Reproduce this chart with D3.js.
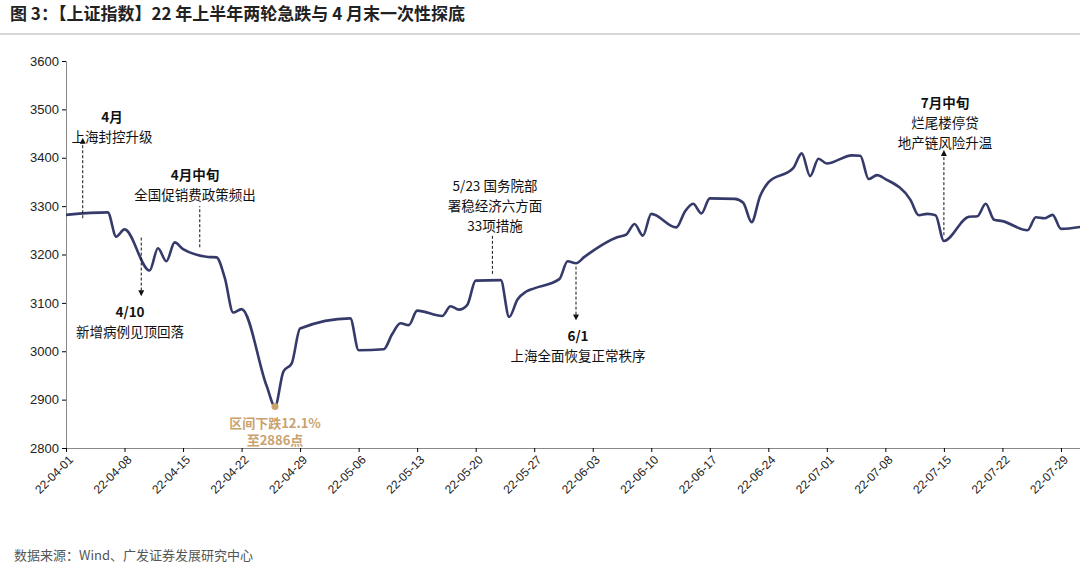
<!DOCTYPE html>
<html><head><meta charset="utf-8">
<script src="https://cdn.jsdelivr.net/npm/d3@7"></script>
<style>body{margin:0;background:#fff;font-family:"Noto Sans CJK SC","Noto Sans",sans-serif}</style>
</head><body><div id="chart"></div>
<script>
const dates = ["2022-04-01","2022-04-06","2022-04-07","2022-04-08","2022-04-11","2022-04-12","2022-04-13","2022-04-14","2022-04-15","2022-04-18","2022-04-19","2022-04-20","2022-04-21","2022-04-22","2022-04-25","2022-04-26","2022-04-27","2022-04-28","2022-04-29","2022-05-05","2022-05-06","2022-05-09","2022-05-10","2022-05-11","2022-05-12","2022-05-13","2022-05-16","2022-05-17","2022-05-18","2022-05-19","2022-05-20","2022-05-23","2022-05-24","2022-05-25","2022-05-26","2022-05-27","2022-05-30","2022-05-31","2022-06-01","2022-06-02","2022-06-06","2022-06-07","2022-06-08","2022-06-09","2022-06-10","2022-06-13","2022-06-14","2022-06-15","2022-06-16","2022-06-17","2022-06-20","2022-06-21","2022-06-22","2022-06-23","2022-06-24","2022-06-27","2022-06-28","2022-06-29","2022-06-30","2022-07-01","2022-07-04","2022-07-05","2022-07-06","2022-07-07","2022-07-08","2022-07-11","2022-07-12","2022-07-13","2022-07-14","2022-07-15","2022-07-18","2022-07-19","2022-07-20","2022-07-21","2022-07-22","2022-07-25","2022-07-26","2022-07-27","2022-07-28","2022-07-29","2022-08-01"];
const values = [3282,3287,3237,3252,3167,3213,3186,3225,3211,3195,3194,3151,3080,3087,2928,2886,2958,2975,3047,3068,3002,3004,3035,3058,3054,3084,3073,3093,3086,3096,3146,3147,3071,3107,3123,3130,3149,3186,3182,3195,3236,3241,3263,3239,3284,3256,3288,3305,3285,3316,3315,3307,3267,3320,3349,3379,3409,3362,3398,3388,3405,3404,3356,3364,3356,3313,3281,3284,3281,3228,3278,3279,3305,3272,3269,3250,3277,3275,3282,3253,3259];
const yTicks = [2800,2900,3000,3100,3200,3300,3400,3500,3600];
const xTickLabels = ["22-04-01","22-04-08","22-04-15","22-04-22","22-04-29","22-05-06","22-05-13","22-05-20","22-05-27","22-06-03","22-06-10","22-06-17","22-06-24","22-07-01","22-07-08","22-07-15","22-07-22","22-07-29"];
const notes = [
  {date:"2022-04-03", lines:["4月","上海封控升级"], bold:[0], tx:112, ty:122, y0:3275, y1:3435, dir:"up"},
  {date:"2022-04-17", lines:["4月中旬","全国促销费政策频出"], bold:[0], tx:195, ty:180, y0:3215, y1:3300, dir:"none"},
  {date:"2022-04-10", lines:["4/10","新增病例见顶回落"], bold:[0], tx:130, ty:317, y0:3235, y1:3120, dir:"down"},
  {date:"2022-05-22", lines:["5/23 国务院部","署稳经济六方面","33项措施"], bold:[], tx:495, ty:191, y0:3160, y1:3240, dir:"none"},
  {date:"2022-06-01", lines:["6/1","上海全面恢复正常秩序"], bold:[0], tx:578, ty:341, y0:3175, y1:3070, dir:"down"},
  {date:"2022-07-15", lines:["7月中旬","烂尾楼停贷","地产链风险升温"], bold:[0], tx:945, ty:108, y0:3240, y1:3410, dir:"up"}
];
const W=1080,H=566, mLeft=66, mTop=61, mBottom=448;
const parse=d3.timeParse("%Y-%m-%d"), parse2=d3.timeParse("%y-%m-%d");
const data=dates.map((d,i)=>({date:parse(d),v:values[i]}));
const x=d3.scaleTime().domain([parse("2022-04-01"),parse("2022-08-01")]).range([mLeft,mLeft+121*8.43]);
const y=d3.scaleLinear().domain([2800,3600]).range([mBottom,mTop]);
const svg=d3.select("#chart").append("svg").attr("width",W).attr("height",H);
svg.append("defs").append("marker").attr("id","ah").attr("viewBox","0 0 10 10").attr("refX",5).attr("refY",5)
  .attr("markerWidth",6).attr("markerHeight",6).attr("orient","auto-start-reverse")
  .append("path").attr("d","M0,0L10,5L0,10z").attr("fill","#111");
svg.append("text").attr("x",10).attr("y",20).attr("font-size",17).attr("font-weight","bold").attr("fill","#222")
  .text("图 3：【上证指数】22 年上半年两轮急跌与 4 月末一次性探底");
svg.append("line").attr("x1",0).attr("x2",W).attr("y1",34).attr("y2",34).attr("stroke","#999").attr("stroke-width",0.8);
const ya=svg.append("g").attr("transform",`translate(${mLeft},0)`).call(d3.axisLeft(y).tickValues(yTicks).tickSize(4).tickFormat(d3.format("d")));
ya.selectAll("text").attr("font-size",13).attr("fill","#222").attr("font-family","Liberation Sans, Arial");
ya.select(".domain").attr("stroke","#888");
const xa=svg.append("g").attr("transform",`translate(0,${mBottom})`).call(d3.axisBottom(x).tickValues(xTickLabels.map(parse2)).tickSize(4).tickFormat(d3.timeFormat("%y-%m-%d")));
xa.selectAll("text").attr("font-size",12).attr("fill","#222").attr("font-family","Liberation Sans, Arial")
  .attr("text-anchor","end").attr("transform","rotate(-45)").attr("dx","-0.3em").attr("dy","0.6em");
xa.select(".domain").attr("stroke","#888");
svg.append("path").datum(data).attr("fill","none").attr("stroke","#363a6a").attr("stroke-width",2.6)
  .attr("d",d3.line().x(d=>x(d.date)).y(d=>y(d.v)).curve(d3.curveMonotoneX));
const low=data.find(d=>d.v===2886);
svg.append("circle").attr("cx",x(low.date)).attr("cy",y(low.v)).attr("r",3.5).attr("fill","#c9a26e");
["区间下跌12.1%","至2886点"].forEach((t,i)=>svg.append("text").attr("x",x(low.date)).attr("y",428+i*17)
  .attr("text-anchor","middle").attr("font-size",13).attr("font-weight","bold").attr("fill","#c9a26e").text(t));
notes.forEach(n=>{
  const xx=x(parse(n.date));
  const l=svg.append("line").attr("x1",xx).attr("x2",xx).attr("y1",y(n.y0)).attr("y2",y(n.y1))
    .attr("stroke","#111").attr("stroke-width",1).attr("stroke-dasharray","3,2");
  if(n.dir!=="none") l.attr("marker-end","url(#ah)");
  n.lines.forEach((t,i)=>svg.append("text").attr("x",n.tx).attr("y",n.ty+i*20).attr("text-anchor","middle")
    .attr("font-size",13.5).attr("font-weight",n.bold.includes(i)?"bold":"normal").attr("fill","#111").text(t));
});
svg.append("text").attr("x",14).attr("y",560).attr("font-size",13).attr("fill","#555").text("数据来源：Wind、广发证券发展研究中心");
</script></body></html>
